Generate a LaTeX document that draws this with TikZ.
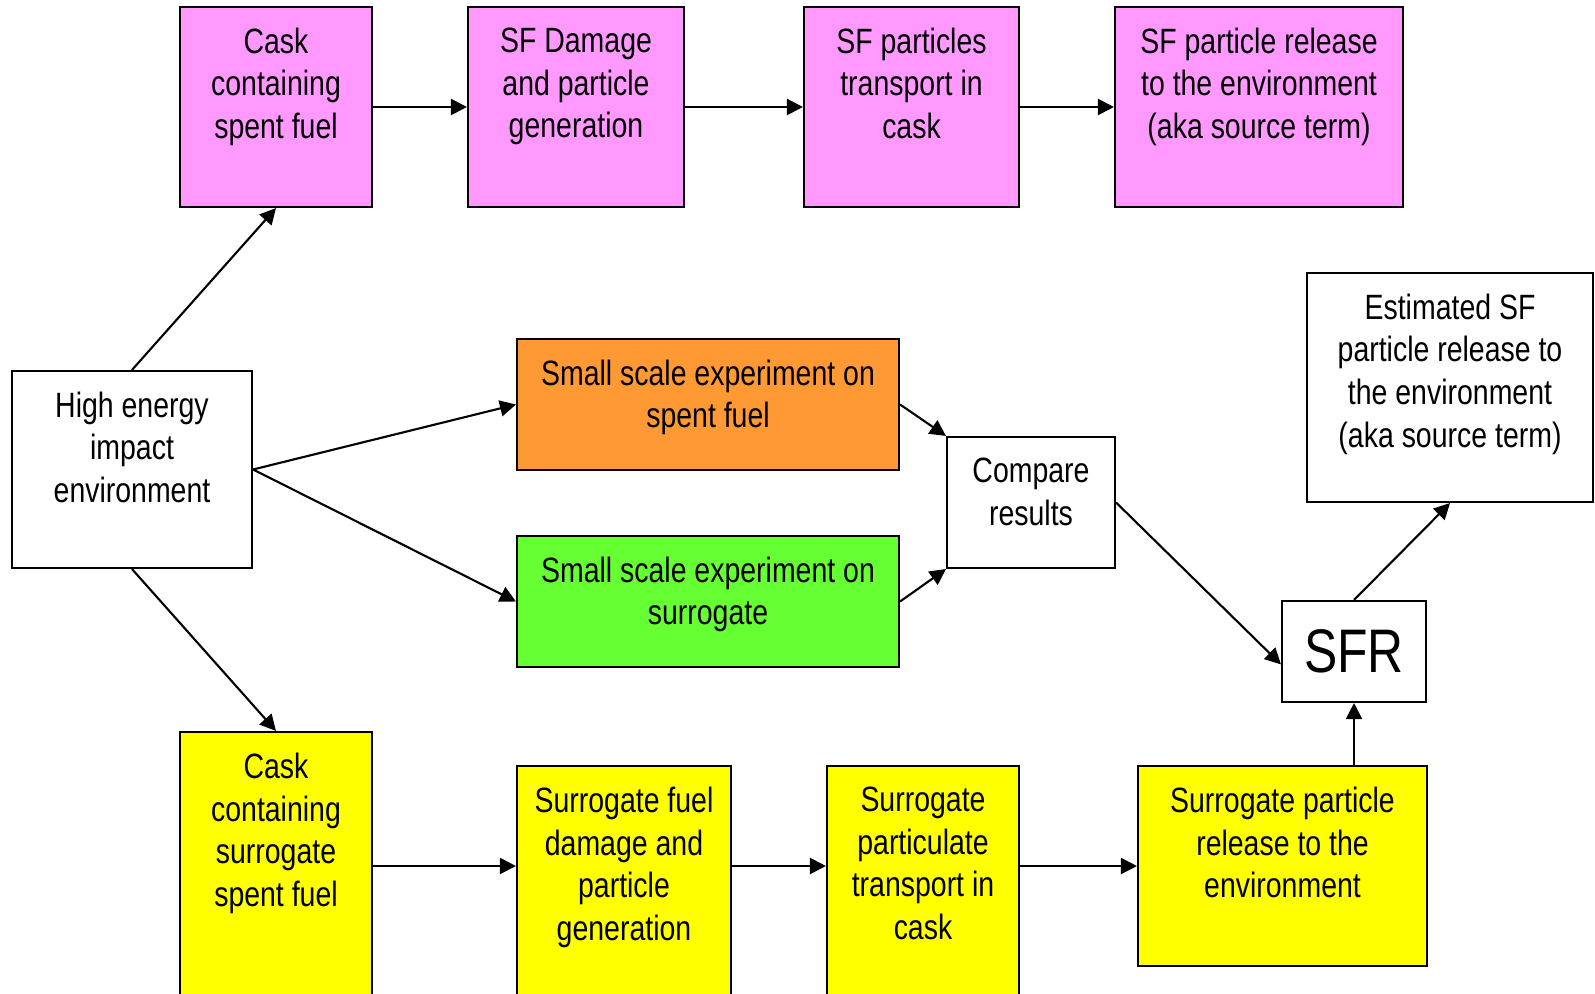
\documentclass[tikz,border=0pt]{standalone}
\usepackage{fontspec}
\setmainfont{Liberation Sans}[FakeStretch=0.81]
\usetikzlibrary{arrows.meta,positioning}

\definecolor{sfpink}{HTML}{FF99FF}
\definecolor{exporange}{HTML}{FF9933}
\definecolor{expgreen}{HTML}{66FF33}
\definecolor{surryellow}{HTML}{FFFF00}

\begin{document}
\begin{tikzpicture}[
x=1mm, y=-1mm,
font=\fontsize{10}{12.2}\selectfont,
blk/.style 2 args={draw=black, line width=0.6pt, inner sep=0pt,
    minimum width=#1mm, minimum height=#2mm},
txt/.style={align=center, inner sep=0pt},
arr/.style={-{Triangle[length=1.6mm,width=1.6mm]}, line width=0.6pt},
]
\useasboundingbox (0,0) rectangle (159.5,99.4);
\clip (0,0) rectangle (159.5,99.4);

% spent fuel row
\node[blk={19.2}{20.0}, fill=sfpink] (cask) at (27.6,10.7) {};
\node[txt, below=2.1mm of cask.north] (cask-t) {Cask\\containing\\spent fuel};
\node[blk={21.6}{20.0}, fill=sfpink] (sfdam) at (57.6,10.7) {};
\node[txt, below=2.1mm of sfdam.north] (sfdam-t) {SF Damage\\and particle\\generation};
\node[blk={21.5}{20.0}, fill=sfpink] (sftrans) at (91.15,10.7) {};
\node[txt, below=2.1mm of sftrans.north] (sftrans-t) {SF particles\\transport in\\cask};
\node[blk={28.8}{20.0}, fill=sfpink] (sfrel) at (125.9,10.7) {};
\node[txt, below=2.1mm of sfrel.north] (sfrel-t) {SF particle release\\to the environment\\(aka source term)};

% middle
\node[blk={24.0}{19.7}, fill=white] (hei) at (13.2,46.95) {};
\node[txt, below=2.1mm of hei.north] (hei-t) {High energy\\impact\\environment};
\node[blk={38.2}{13.1}, fill=exporange] (expsf) at (70.8,40.45) {};
\node[txt, below=2.1mm of expsf.north] (expsf-t) {Small scale experiment on\\spent fuel};
\node[blk={38.2}{13.1}, fill=expgreen] (expsur) at (70.8,60.15) {};
\node[txt, below=2.1mm of expsur.north] (expsur-t) {Small scale experiment on\\surrogate};
\node[blk={16.8}{13.1}, fill=white] (cmp) at (103.1,50.25) {};
\node[txt, below=2.1mm of cmp.north] (cmp-t) {Compare\\results};
\node[blk={28.6}{22.9}, fill=white] (est) at (145.0,38.75) {};
\node[txt, below=2.1mm of est.north] (est-t) {Estimated SF\\particle release to\\the environment\\(aka source term)};
\node[blk={14.4}{10.1}, fill=white, font=\fontsize{17.5}{20}\selectfont] (sfr) at (135.4,65.15) {SFR};

% surrogate row
\node[blk={19.2}{26.8}, fill=surryellow] (ycask) at (27.6,86.6) {};
\node[txt, below=2.1mm of ycask.north] (ycask-t) {Cask\\containing\\surrogate\\spent fuel};
\node[blk={21.4}{23.4}, fill=surryellow] (sdam) at (62.4,88.3) {};
\node[txt, below=2.1mm of sdam.north] (sdam-t) {Surrogate fuel\\damage and\\particle\\generation};
\node[blk={19.2}{23.4}, fill=surryellow] (spart) at (92.3,88.3) {};
\node[txt, below=2.1mm of spart.north] (spart-t) {Surrogate\\particulate\\transport in\\cask};
\node[blk={28.9}{20.0}, fill=surryellow] (srel) at (128.25,86.6) {};
\node[txt, below=2.1mm of srel.north] (srel-t) {Surrogate particle\\release to the\\environment};

% connectors
\draw[arr] (cask.east) -- (sfdam.west);
\draw[arr] (sfdam.east) -- (sftrans.west);
\draw[arr] (sftrans.east) -- (sfrel.west);
\draw[arr] (hei.north) -- (cask.south);
\draw[arr] (hei.south) -- (ycask.north);
\draw[arr] (hei.east) -- (expsf.west);
\draw[arr] (hei.east) -- (expsur.west);
\draw[arr] (expsf.east) -- (cmp.north west);
\draw[arr] (expsur.east) -- (cmp.south west);
\draw[arr] (cmp.east) -- (sfr.-170);
\draw[arr] (sfr.north) -- (est.south);
\draw[arr] (srel.north -| sfr.south) -- (sfr.south);
\draw[arr] (ycask.east) -- (sdam.west |- ycask.east);
\draw[arr] (sdam.east |- ycask.east) -- (spart.west |- ycask.east);
\draw[arr] (spart.east |- ycask.east) -- (srel.west);

\end{tikzpicture}
\end{document}
